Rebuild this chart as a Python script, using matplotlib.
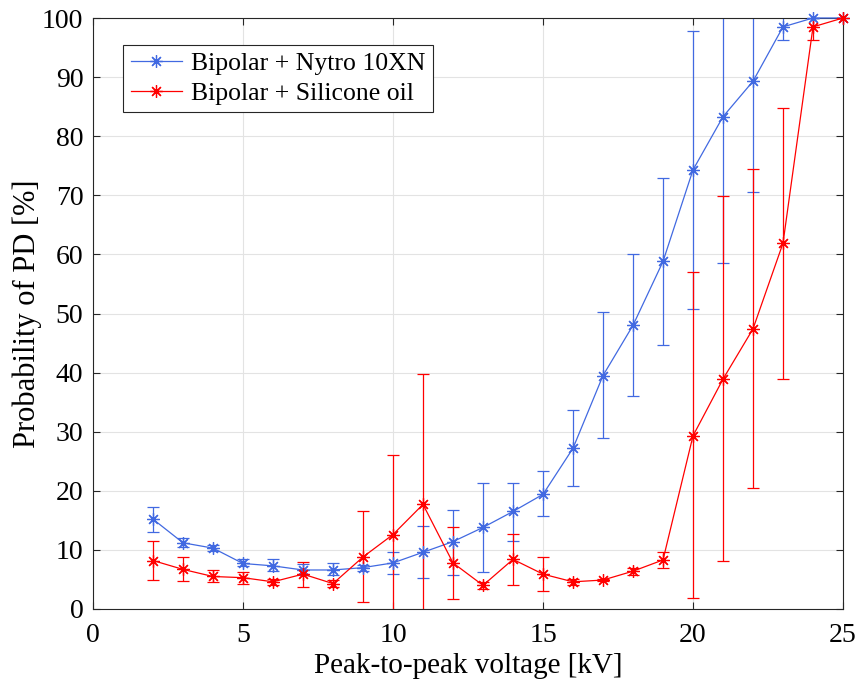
import matplotlib.pyplot as plt
import numpy as np

voltage = np.arange(2, 26)

nytro_mean = [15.2, 11.2, 10.3, 7.7, 7.3, 6.6, 6.6, 7.0, 7.8, 9.6, 11.4, 13.8,
              16.5, 19.4, 27.2, 39.5, 48.0, 58.8, 74.3, 83.3, 89.3, 98.5, 100.0, 100.0]
nytro_low = [13.0, 10.5, 9.8, 7.2, 6.5, 5.8, 5.7, 6.5, 5.9, 5.2, 5.8, 6.3,
             11.5, 15.7, 20.8, 28.9, 36.0, 44.6, 50.8, 58.6, 70.5, 96.2, 100.0, 100.0]
nytro_high = [17.3, 12.0, 10.8, 8.4, 8.4, 7.6, 7.7, 7.5, 9.6, 14.0, 16.8, 21.3,
              21.3, 23.3, 33.6, 50.2, 60.0, 73.0, 97.8, 108.0, 108.0, 100.5, 100.0, 100.0]

oil_mean = [8.2, 6.7, 5.5, 5.3, 4.6, 5.9, 4.3, 8.8, 12.6, 17.7, 7.8, 4.0,
            8.4, 5.9, 4.6, 4.9, 6.4, 8.3, 29.3, 38.9, 47.4, 61.9, 98.5, 100.0]
oil_low = [4.9, 4.7, 4.5, 4.2, 4.0, 3.7, 3.8, 1.1, -1.0, -4.0, 1.7, 3.4,
           4.0, 3.0, 4.1, 4.7, 5.8, 7.0, 1.8, 8.1, 20.4, 39.0, 96.3, 100.0]
oil_high = [11.5, 8.8, 6.6, 6.3, 5.0, 8.0, 4.9, 16.6, 26.0, 39.7, 13.9, 4.6,
            12.7, 8.8, 5.0, 5.1, 7.0, 9.6, 57.0, 69.9, 74.4, 84.8, 100.5, 100.0]

plt.rcParams['font.family'] = ['Liberation Serif', 'DejaVu Serif']

fig = plt.figure(figsize=(8.58, 6.88), dpi=100)
ax = fig.add_axes([93 / 858, 1 - 609 / 688, 750 / 858, 591 / 688])

asterisk = (8, 2, 0)
series = [
    ("Bipolar + Nytro 10XN", nytro_mean, nytro_low, nytro_high, '#4169e1'),
    ("Bipolar + Silicone oil", oil_mean, oil_low, oil_high, '#ff0000'),
]
for label, mean, low, high, color in series:
    mean = np.array(mean)
    err = [mean - np.array(low), np.array(high) - mean]
    ax.errorbar(voltage, mean, yerr=err, fmt='none', ecolor=color,
                elinewidth=0.9, capsize=4.5, capthick=0.9)
    ax.plot(voltage, mean, color=color, lw=0.9, marker=asterisk, markersize=9,
            markeredgewidth=0.9, label=label, clip_on=False, zorder=3)

ax.set_xlim(0, 25)
ax.set_ylim(0, 100)
ax.set_xticks(range(0, 26, 5))
ax.set_yticks(range(0, 101, 10))
ax.grid(True, color='#e3e3e3', lw=0.8)
ax.set_axisbelow(True)
ax.tick_params(direction='in', top=True, right=True, labelsize=20,
               length=5, color='#262626')
ax.tick_params(axis='x', pad=10)
ax.tick_params(axis='y', pad=7)
for sp in ax.spines.values():
    sp.set_color('#262626')
    sp.set_linewidth(0.8)
ax.set_xlabel('Peak-to-peak voltage [kV]', fontsize=21, labelpad=4)
ax.set_ylabel('Probability of PD [%]', fontsize=22, labelpad=0)

leg = ax.legend(loc='upper left', bbox_to_anchor=(0.04, 0.955), fontsize=18.5,
                fancybox=False, edgecolor='#262626', framealpha=1,
                borderpad=0.3, labelspacing=0.25, handlelength=2.0,
                handletextpad=0.35, borderaxespad=0)
leg.get_frame().set_linewidth(0.8)

fig.savefig('out.png', dpi=100)
